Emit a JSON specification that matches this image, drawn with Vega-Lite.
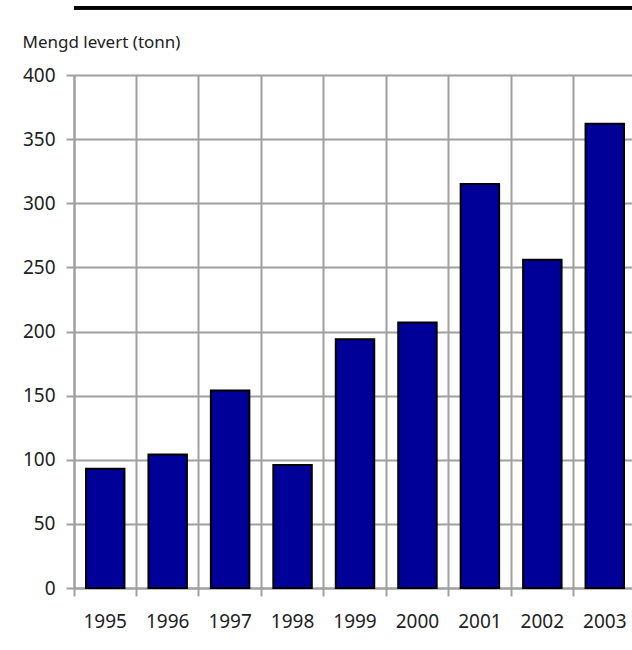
{
  "$schema": "https://vega.github.io/schema/vega-lite/v6.json",
  "width": 562,
  "height": 513,
  "autosize": "none",
  "padding": {"left": 74, "top": 75, "right": 0, "bottom": 62},
  "background": "white",
  "config": {
    "view": {"stroke": null},
    "font": "Noto Sans",
    "axis": {
      "labelFont": "Noto Sans",
      "labelFontSize": 19,
      "labelColor": "#222222",
      "gridColor": "#a0a0a0",
      "gridWidth": 2,
      "gridOpacity": 1,
      "domainColor": "#a0a0a0",
      "domainWidth": 2,
      "tickColor": "#a0a0a0",
      "tickWidth": 2,
      "tickSize": 8
    }
  },
  "data": {
    "values": [
      {"year": "1995", "tonn": 93},
      {"year": "1996", "tonn": 104},
      {"year": "1997", "tonn": 154},
      {"year": "1998", "tonn": 96},
      {"year": "1999", "tonn": 194},
      {"year": "2000", "tonn": 207},
      {"year": "2001", "tonn": 315},
      {"year": "2002", "tonn": 256},
      {"year": "2003", "tonn": 362}
    ]
  },
  "layer": [
    {
      "mark": {"type": "bar", "fill": "#000099", "stroke": "#000000", "strokeWidth": 2, "width": {"band": 0.616}},
      "encoding": {
        "x": {
          "field": "year",
          "type": "ordinal",
          "scale": {"paddingInner": 0, "paddingOuter": 0},
          "axis": {
            "title": null,
            "labelAngle": 0,
            "bandPosition": 0,
            "labelPadding": 16,
            "labelOffset": 0,
            "grid": true
          }
        },
        "y": {
          "field": "tonn",
          "type": "quantitative",
          "scale": {"domain": [0, 400], "nice": false},
          "axis": {
            "values": [0, 50, 100, 150, 200, 250, 300, 350, 400],
            "grid": true,
            "labelPadding": 11,
            "title": "Mengd levert (tonn)",
            "titleAngle": 0,
            "titleAlign": "left",
            "titleBaseline": "alphabetic",
            "titleFont": "Noto Sans",
            "titleFontSize": 17,
            "titleFontWeight": "normal",
            "titleColor": "#222222",
            "titleX": -52,
            "titleY": -28
          }
        }
      }
    },
    {
      "mark": {"type": "rule", "color": "#000000", "strokeWidth": 3, "clip": false},
      "encoding": {
        "y": {"datum": 452.5, "type": "quantitative"}
      }
    }
  ]
}
